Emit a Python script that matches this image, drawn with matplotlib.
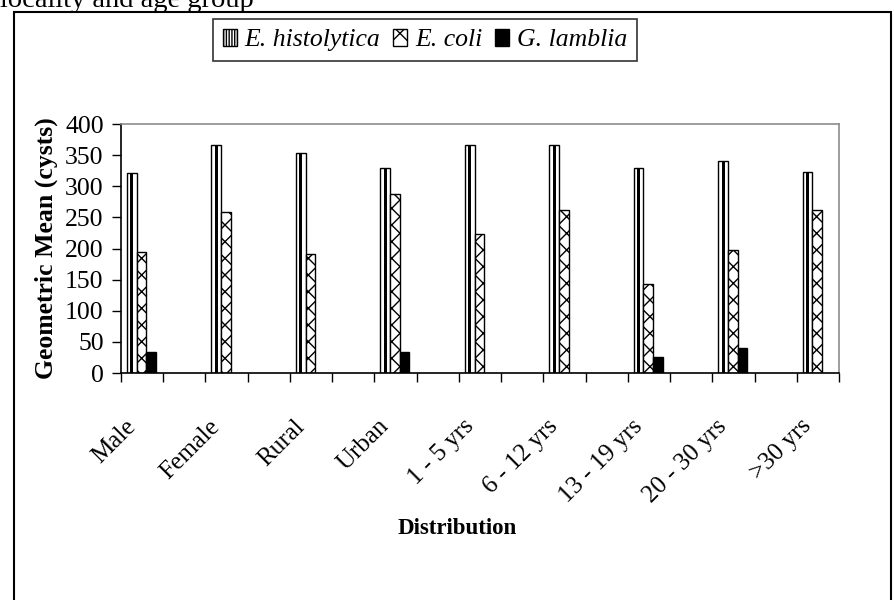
import matplotlib
matplotlib.use("Agg")
import matplotlib.pyplot as plt
from matplotlib.patches import Rectangle, Patch
from matplotlib.transforms import ScaledTranslation
import numpy as np

categories = ["Male", "Female", "Rural", "Urban", "1 - 5 yrs", "6 - 12 yrs",
              "13 - 19 yrs", "20 - 30 yrs", ">30 yrs"]
e_histolytica = [321, 367, 353, 329, 367, 367, 329, 341, 323]
e_coli = [194, 259, 191, 287, 224, 262, 143, 197, 262]
g_lamblia = [33, 0, 0, 33, 0, 0, 26, 40, 0]
series_names = ["E. histolytica", "E. coli", "G. lamblia"]
y_ticks = [0, 50, 100, 150, 200, 250, 300, 350, 400]

plt.rcParams["font.family"] = ["Liberation Serif", "DejaVu Serif"]
plt.rcParams["hatch.linewidth"] = 1.0

fig = plt.figure(figsize=(8.94, 6.0), dpi=100)
ax = fig.add_axes([121/894, 1-373/600, 718/894, 249/600])

n = len(categories)
x = np.arange(n)
w = 0.1145
first_left = -0.5 + 0.071
offsets = [first_left + w * (k + 0.5) for k in range(3)]

# E. histolytica: white bar with a black centre stripe
ax.bar(x + offsets[0], e_histolytica, width=w, facecolor="white",
       edgecolor="black", linewidth=1.0)
ax.bar(x + offsets[0], e_histolytica, width=w * 0.3, facecolor="black",
       edgecolor="none", linewidth=0)
# E. coli: cross-hatched
ax.bar(x + offsets[1], e_coli, width=w, facecolor="white", edgecolor="black",
       linewidth=1.0, hatch="xx")
# G. lamblia: solid black
gl = np.array(g_lamblia, dtype=float)
m = gl > 0
ax.bar(x[m] + offsets[2], gl[m], width=w, facecolor="black", edgecolor="black",
       linewidth=1.0)

ax.xaxis.remove_overlapping_locs = False
ax.set_xlim(-0.5, n - 1.0)
ax.set_ylim(0, 400)
ax.set_yticks(y_ticks)
ax.set_yticklabels([str(t) for t in y_ticks], fontsize=18.5)
ax.set_xticks(np.arange(-0.5, n - 0.9, 0.5))
ax.set_xticklabels([])
ax.set_xticks(x, minor=True)
ax.set_xticklabels(categories, minor=True, rotation=45, ha="right", va="center",
                   rotation_mode="anchor", fontsize=18)
ax.tick_params(axis="x", which="major", direction="out", length=6.5, width=1)
ax.tick_params(axis="x", which="minor", length=0, pad=36)
ax.tick_params(axis="y", direction="out", length=6.5, width=1, pad=6)
shift = ScaledTranslation(-31/100, 0, fig.dpi_scale_trans)
for lab in ax.get_xticklabels(minor=True):
    lab.set_transform(lab.get_transform() + shift)

for s in ["top", "right"]:
    ax.spines[s].set_color("#8c8c8c")
    ax.spines[s].set_linewidth(1.2)
for s in ["left", "bottom"]:
    ax.spines[s].set_color("black")
    ax.spines[s].set_linewidth(1.2)

ax.set_ylabel("Geometric Mean (cysts)", fontsize=18.5, fontweight="bold", labelpad=5)
ax.set_xlabel("Distribution", fontsize=16.5, fontweight="bold", va="center")
ax.xaxis.set_label_coords((457 - 121) / 718, -(529 - 373) / 249)

handles = [Patch(facecolor="white", edgecolor="black", hatch="||||||"),
           Patch(facecolor="white", edgecolor="black", hatch="x"),
           Patch(facecolor="black", edgecolor="black")]
leg = fig.legend(handles, series_names, loc="center",
                 bbox_to_anchor=(425/894, 1-40/600), ncol=3,
                 frameon=True, fancybox=False, edgecolor="black",
                 handlelength=0.55, handleheight=0.65, handletextpad=0.3,
                 columnspacing=0.5, borderpad=0.38,
                 prop=dict(family="Liberation Serif", style="italic", size=18.5))
leg.get_frame().set_linewidth(1.2)

fig.patches.append(Rectangle((14/894, -0.05), (891-14)/894, 1.05 - 12/600,
                             transform=fig.transFigure, fill=False,
                             edgecolor="black", linewidth=1.5))
fig.text(0.0, 1 - 7/600, "locality and age group", fontsize=20.5,
         ha="left", va="baseline")

fig.savefig("out.png", dpi=100)
